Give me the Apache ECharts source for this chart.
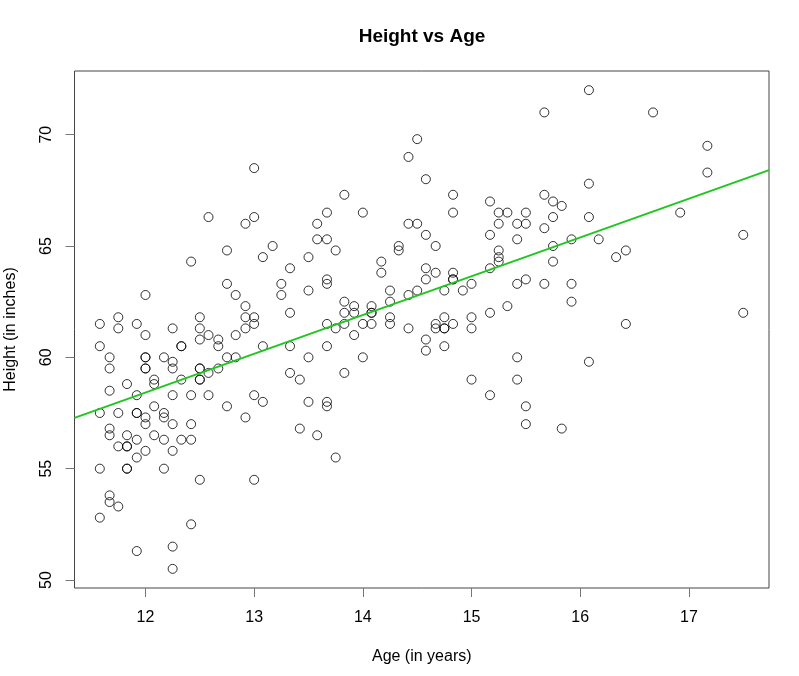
<!DOCTYPE html>
<html>
<head>
<meta charset="utf-8">
<script src="https://cdn.jsdelivr.net/npm/echarts@6/dist/echarts.min.js"></script>
<style>
  html, body { margin: 0; padding: 0; background: #fff; }
  #chart { width: 799px; height: 676px; }
</style>
</head>
<body>
<div id="chart"></div>
<script>
// ages (years) and heights (inches), point by point
var ages = [
  12.75, 13.17, 13.08, 12.42, 12.75, 12.83, 12.0, 12.92, 11.58, 11.75,
  11.75, 11.92, 12.0, 12.25, 12.5, 12.5, 12.5, 12.58, 12.67, 12.67,
  12.83, 12.92, 13.0, 12.92, 13.0, 13.08, 11.58, 12.33, 12.33, 11.67,
  12.0, 12.0, 12.17, 12.25, 11.67, 12.0, 12.0, 12.25, 12.5, 12.5,
  12.67, 12.75, 12.83, 12.58, 12.08, 12.08, 12.33, 12.5, 12.5, 11.83,
  11.67, 11.92, 12.25, 12.42, 12.58, 13.0, 13.08, 12.75, 12.08, 11.58,
  11.75, 11.92, 11.92, 12.0, 12.17, 12.17, 12.92, 11.67, 11.67, 12.0,
  12.25, 12.42, 11.83, 12.08, 11.92, 12.17, 12.33, 12.42, 11.75, 11.83,
  11.83, 12.0, 12.25, 11.92, 11.58, 11.83, 11.83, 12.17, 12.5, 13.0,
  11.67, 11.67, 11.75, 11.58, 12.42, 11.92, 12.25, 12.25, 13.0, 12.58,
  12.92, 13.0,
  14.58, 14.83, 14.83, 13.83, 13.67, 14.0, 13.58, 14.42, 14.5, 14.58,
  13.58, 13.67, 13.75, 14.33, 14.33, 14.67, 13.5, 13.33, 14.17, 14.17,
  14.58, 14.58, 14.67, 14.83, 14.83, 14.83, 13.67, 13.67, 13.25, 13.25,
  13.5, 14.25, 14.5, 14.42, 14.75, 14.92, 15.0, 13.83, 13.92, 14.08,
  14.08, 14.08, 13.83, 13.92, 14.25, 13.33, 14.25, 14.25, 13.67, 13.83,
  14.0, 14.08, 13.75, 13.92, 14.42, 14.67, 14.67, 14.75, 14.75, 14.75,
  14.83, 15.0, 15.0, 14.58, 14.75, 13.33, 13.67, 13.5, 14.0, 14.58,
  13.33, 13.42, 13.83, 15.0, 13.5, 13.67, 13.67, 13.42, 13.58, 13.75,
  14.5, 14.42,
  16.08, 15.67, 16.67, 16.08, 15.17, 15.67, 15.75, 15.83, 15.25, 15.33,
  15.5, 15.25, 15.42, 15.5, 15.75, 16.08, 15.67, 15.17, 15.42, 15.92,
  16.17, 15.75, 15.25, 15.25, 15.25, 15.17, 15.75, 16.33, 16.42, 15.42,
  15.5, 15.67, 15.92, 15.92, 15.33, 15.17, 16.42, 15.42, 16.08, 15.42,
  15.17, 15.5, 15.5, 15.83, 17.17, 17.17, 16.92, 17.5, 17.5
];
var heights = [
  64.8, 65.0, 64.5, 64.3, 63.3, 62.8, 62.8, 62.3, 61.5, 61.8,
  61.3, 61.5, 61.0, 61.3, 61.8, 61.3, 60.8, 61.0, 60.8, 60.5,
  61.0, 61.8, 61.8, 61.3, 61.5, 60.5, 60.5, 60.5, 60.5, 60.0,
  60.0, 60.0, 60.0, 59.8, 59.5, 59.5, 59.5, 59.5, 59.5, 59.5,
  59.5, 60.0, 60.0, 59.3, 59.0, 58.8, 59.0, 59.0, 59.0, 58.8,
  58.5, 58.3, 58.3, 58.3, 58.3, 58.3, 58.0, 57.8, 57.8, 57.5,
  57.5, 57.5, 57.5, 57.3, 57.5, 57.3, 57.3, 56.8, 56.5, 57.0,
  57.0, 57.0, 56.5, 56.5, 56.3, 56.3, 56.3, 56.3, 56.0, 56.0,
  56.0, 55.8, 55.8, 55.5, 55.0, 55.0, 55.0, 55.0, 54.5, 54.5,
  53.8, 53.5, 53.3, 52.8, 52.5, 51.3, 51.5, 50.5, 68.5, 66.3,
  66.0, 66.3,
  68.0, 67.3, 66.5, 67.3, 66.5, 66.5, 66.0, 66.0, 66.0, 65.5,
  65.3, 65.3, 64.8, 65.0, 64.8, 65.0, 64.5, 64.0, 64.3, 63.8,
  64.0, 63.5, 63.8, 63.8, 63.5, 63.5, 63.5, 63.3, 63.3, 62.8,
  63.0, 63.0, 63.0, 62.8, 63.0, 63.0, 63.3, 62.5, 62.3, 62.3,
  62.0, 62.0, 62.0, 62.0, 62.5, 62.0, 61.8, 61.5, 61.5, 61.5,
  61.5, 61.5, 61.3, 61.0, 61.3, 61.5, 61.3, 61.8, 61.3, 61.3,
  61.5, 61.8, 61.3, 60.8, 60.5, 60.5, 60.5, 60.0, 60.0, 60.3,
  59.3, 59.0, 59.3, 59.0, 58.0, 58.0, 57.8, 56.8, 56.5, 55.5,
  69.8, 69.0,
  72.0, 71.0, 71.0, 67.8, 67.0, 67.3, 67.0, 66.8, 66.5, 66.5,
  66.5, 66.0, 66.0, 66.0, 66.3, 66.3, 65.8, 65.5, 65.3, 65.3,
  65.3, 65.0, 64.8, 64.5, 64.3, 64.0, 64.3, 64.5, 64.8, 63.3,
  63.5, 63.3, 63.3, 62.5, 62.3, 62.0, 61.5, 60.0, 59.8, 59.0,
  58.3, 57.8, 57.0, 56.8, 69.5, 68.3, 66.5, 65.5, 62.0
];

// fitted line as read at the left and right edges of the plot box
var fitAges = [11.347, 17.737];
var fitHeights = [57.28, 68.41];

var xTicks = [12, 13, 14, 15, 16, 17];
var yTicks = [50, 55, 60, 65, 70];

var points = ages.map(function (a, i) { return [a, heights[i]]; });
var fitLine = fitAges.map(function (a, i) { return [a, fitHeights[i]]; });

var font = '"Liberation Sans", Arial, sans-serif';
var chart = echarts.init(document.getElementById('chart'));

chart.setOption({
  animation: false,
  backgroundColor: '#fff',
  title: {
    text: 'Height vs Age',
    left: 417,
    top: 22,
    textAlign: 'center',
    textStyle: { fontFamily: font, fontSize: 19, fontWeight: 'bold', color: '#000' }
  },
  grid: {
    left: 74.5, right: 30, top: 71, bottom: 88,
    outerBoundsMode: 'none',
    containLabel: false,
    show: true, borderColor: '#444', borderWidth: 1
  },
  xAxis: {
    type: 'value',
    min: 11.347, max: 17.737,
    name: 'Age (in years)',
    nameLocation: 'middle',
    nameGap: 61,
    nameTextStyle: { fontFamily: font, fontSize: 16, color: '#000' },
    axisLine: { show: false },
    splitLine: { show: false },
    axisTick: { show: true, customValues: xTicks, length: 9, lineStyle: { color: '#777' } },
    axisLabel: { customValues: xTicks, margin: 22, fontFamily: font, fontSize: 16, color: '#000' }
  },
  yAxis: {
    type: 'value',
    min: 49.64, max: 72.86,
    name: 'Height (in inches)',
    nameLocation: 'middle',
    nameRotate: 90,
    nameGap: 56,
    nameTextStyle: { fontFamily: font, fontSize: 16, color: '#000' },
    axisLine: { show: false },
    splitLine: { show: false },
    axisTick: { show: true, customValues: yTicks, length: 9, lineStyle: { color: '#777' } },
    axisLabel: { customValues: yTicks, rotate: 90, margin: 20, fontFamily: font, fontSize: 16, color: '#000' }
  },
  series: [
    {
      type: 'scatter',
      data: points,
      symbol: 'circle',
      symbolSize: 9,
      itemStyle: { color: 'rgba(0,0,0,0)', borderColor: '#000', borderWidth: 1 },
      emphasis: { disabled: true }
    },
    {
      type: 'line',
      data: fitLine,
      showSymbol: false,
      z: 5,
      lineStyle: { color: '#1fc61f', width: 2 }
    }
  ]
});
</script>
</body>
</html>
